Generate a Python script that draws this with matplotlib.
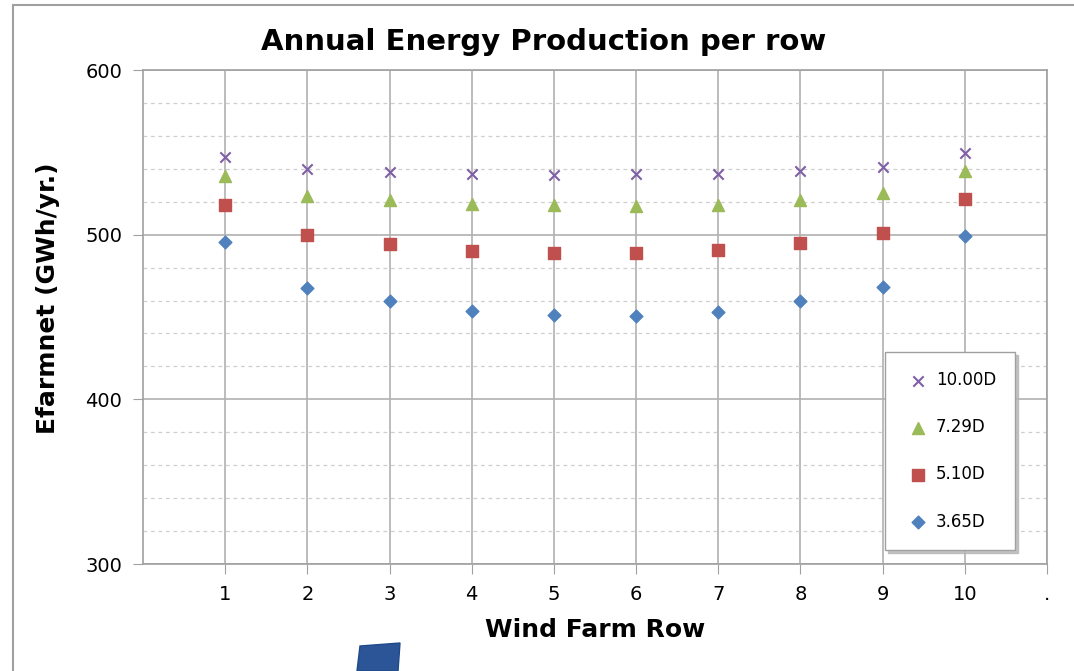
import matplotlib
matplotlib.use("Agg")
import matplotlib.pyplot as plt
from matplotlib.patches import Rectangle, Polygon

rows = [1, 2, 3, 4, 5, 6, 7, 8, 9, 10]
e_10_00D = [547.0, 539.7, 537.9, 536.7, 536.3, 536.6, 536.8, 538.7, 541.3, 549.4]
e_7_29D = [535.6, 523.5, 520.8, 518.6, 517.8, 517.6, 518.3, 521.3, 525.3, 538.4]
e_5_10D = [518.0, 499.8, 494.2, 490.2, 488.7, 489.0, 490.6, 495.0, 500.8, 521.6]
e_3_65D = [495.6, 467.7, 459.5, 453.5, 451.3, 450.8, 453.0, 459.5, 468.3, 499.2]

fig = plt.figure(figsize=(10.74, 6.71), dpi=100)
ax = fig.add_axes([143/1074, 1 - 564/671, 904/1074, 494/671])

# bordure exterieure
fig.patches.append(Rectangle((13/1074, -0.2), 1.2, 1.2 - 5/671, transform=fig.transFigure,
                             fill=False, edgecolor='#a0a0a0', linewidth=1.5, zorder=0))

ax.scatter(rows, e_10_00D, marker='x', s=55, color='#7f5fa6', linewidths=1.5, label='10.00D', zorder=3)
ax.scatter(rows, e_7_29D, marker='^', s=75, color='#9bbb59', label='7.29D', zorder=3)
ax.scatter(rows, e_5_10D, marker='s', s=70, color='#c0504d', label='5.10D', zorder=3)
ax.scatter(rows, e_3_65D, marker='D', s=42, color='#4f81bd', label='3.65D', zorder=3)

ax.set_xlim(0, 11)
ax.set_ylim(300, 600)
ax.set_xticks(range(1, 12))
ax.set_xticklabels([str(r) for r in rows] + ['.'])
ax.set_yticks([300, 400, 500, 600])
ax.set_yticks(range(300, 601, 20), minor=True)
ax.tick_params(axis='y', which='minor', length=0)
ax.tick_params(axis='both', which='major', labelsize=14, direction='out', length=7,
               color='#a0a0a0', pad=8)

ax.grid(True, which='major', axis='both', color='#b0b0b0', linewidth=1.2)
ax.grid(True, which='minor', axis='y', color='#cfcfcf', linestyle=(0, (3, 3)), linewidth=0.9)
ax.set_axisbelow(True)
for s in ax.spines.values():
    s.set_color('#a0a0a0')
    s.set_linewidth(1.2)

fig.text(544/1074, 1 - 42/671, 'Annual Energy Production per row', fontsize=21,
         fontweight='bold', ha='center', va='center')
ax.set_xlabel('Wind Farm Row', fontsize=18, fontweight='bold', labelpad=10)
fig.text(48/1074, 1 - 298/671, 'Efarmnet (GWh/yr.)', rotation=90, fontsize=18,
         fontweight='bold', ha='center', va='center')

leg = ax.legend(loc='upper left', bbox_to_anchor=((885-143)/904, (564-352)/494),
                fontsize=12, labelspacing=1.75, borderpad=1.15, handletextpad=0.3,
                handlelength=1.6, fancybox=False,
                shadow={'color': '#b5b5b5', 'alpha': 0.8}, framealpha=1,
                borderaxespad=0, scatterpoints=1)
leg.get_frame().set_edgecolor('#a0a0a0')

fig.patches.append(Polygon([(360/1074, 1 - 646/671), (400/1074, 1 - 643/671),
                            (398/1074, 0), (357/1074, 0)], closed=True,
                           transform=fig.transFigure, facecolor='#2b5597',
                           edgecolor='#1f4a8a'))

fig.savefig('out.png', dpi=100)
